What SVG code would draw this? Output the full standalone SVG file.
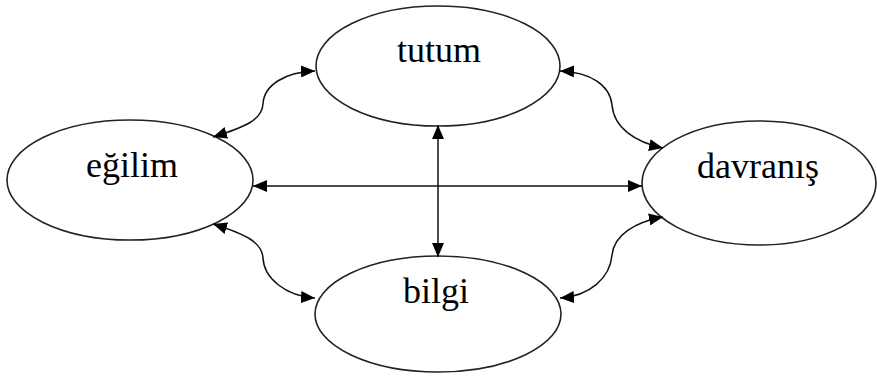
<svg xmlns="http://www.w3.org/2000/svg" width="877" height="376" viewBox="0 0 877 376">
  <style>
    .node ellipse { fill: #fff; stroke: #222; stroke-width: 1.6; }
    .node text { font-family: "Liberation Serif", "Times New Roman", serif; font-size: 36px; fill: #000; text-anchor: middle; }
    .conn path, .conn line { fill: none; stroke: #111; stroke-width: 1.5; marker-start: url(#ah); marker-end: url(#ah); }
  </style>
  <defs>
    <marker id="ah" markerUnits="userSpaceOnUse" markerWidth="14" markerHeight="12" refX="14" refY="6" orient="auto-start-reverse" viewBox="0 0 14 12">
      <path d="M0,0 L14,6 L0,12 z" fill="#000"/>
    </marker>
  </defs>
  <rect width="877" height="376" fill="#fff"/>
  <g id="tutum" class="node">
    <ellipse cx="438" cy="66" rx="122" ry="60"/>
    <text x="439" y="62">tutum</text>
  </g>
  <g id="egilim" class="node">
    <ellipse cx="130" cy="180" rx="123" ry="60"/>
    <text x="132" y="177">eğilim</text>
  </g>
  <g id="davranis" class="node">
    <ellipse cx="759" cy="183" rx="117" ry="62"/>
    <text x="758" y="178">davranış</text>
  </g>
  <g id="bilgi" class="node">
    <ellipse cx="438" cy="314" rx="123" ry="58"/>
    <text x="436" y="303">bilgi</text>
  </g>
  <g id="connectors" class="conn">
    <line x1="253" y1="186" x2="642" y2="186"/>
    <line x1="438" y1="125" x2="438" y2="257"/>
    <path d="M213,137 C245,127 262,120 263,104 C264,85 285,72 315,71"/>
    <path d="M213,224 C245,234 262,242 263,258 C264,278 285,296 315,298"/>
    <path d="M560,71 C590,72 610,85 612,105 C614,128 635,142 663,148"/>
    <path d="M663,217 C635,222 614,235 612,255 C610,278 590,296 560,298"/>
  </g>
</svg>
